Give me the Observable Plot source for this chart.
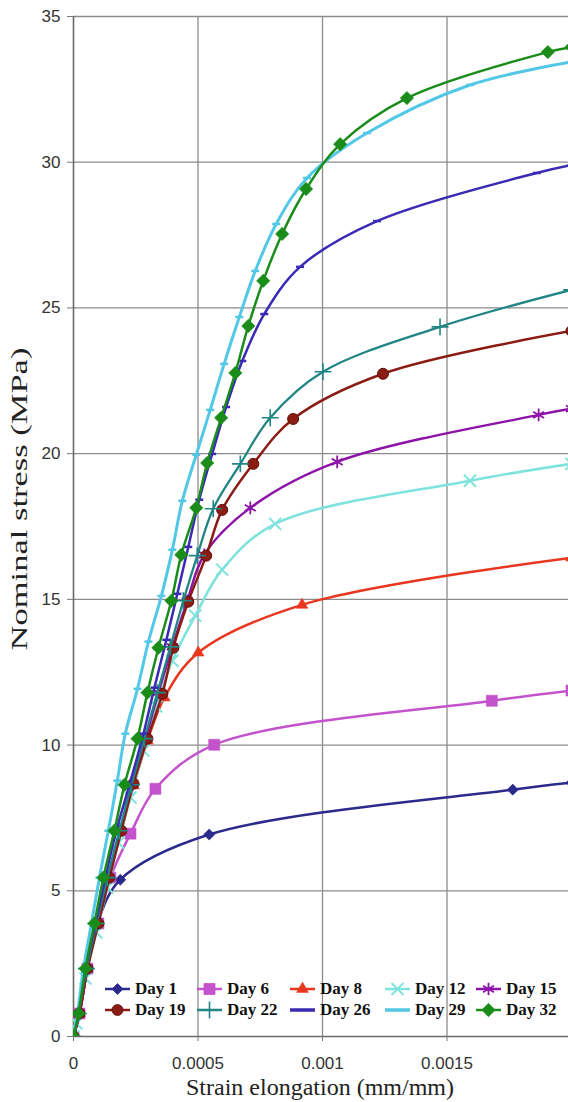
<!DOCTYPE html>
<html><head><meta charset="utf-8">
<script src="https://cdn.jsdelivr.net/npm/d3@7"></script>
<script src="https://cdn.jsdelivr.net/npm/@observablehq/plot@0.6"></script>
<style>
body{margin:0;background:#fff;}
#wrap{position:relative;width:568px;height:1102px;overflow:hidden;background:#fff;}
.xtitle{position:absolute;left:0;width:640px;top:1075px;line-height:24px;text-align:center;font-family:"Liberation Serif",serif;font-size:24px;color:#222;white-space:nowrap;}
.ytitle{position:absolute;left:20px;top:499px;line-height:24px;transform:translate(-50%,-50%) rotate(-90deg) scaleX(1.5);font-family:"Liberation Serif",serif;font-size:23px;color:#222;white-space:nowrap;}
.leg{position:absolute;height:20px;display:flex;align-items:center;font-family:"Liberation Serif",serif;font-weight:bold;font-size:17px;color:#111;white-space:nowrap;}
.leg svg{margin-right:5px;overflow:visible}
</style></head>
<body><div id="wrap"></div>
<script>
// ---- data (strain mm/mm, nominal stress MPa) ----
const seriesNames = ["Day 1","Day 6","Day 8","Day 12","Day 15","Day 19","Day 22","Day 26","Day 29","Day 32"];
const seriesColors = ["#2b2a8c","#c452cc","#e8361f","#7fe3dd","#8c12a8","#8b1c14","#218585","#3a2ab4","#52c8e6","#1a8c1a"];

const day1 = [[0,0],[0.000024,0.79],[0.000056,2.33],[0.000096,3.88],[0.000188,5.38],[0.000545,6.93],[0.001764,8.47],[0.002,8.71]];
const day6 = [[0,0],[0.000024,0.79],[0.000056,2.33],[0.0001,3.88],[0.000148,5.45],[0.000229,6.96],[0.000329,8.5],[0.000565,10.01],[0.00168,11.52],[0.002,11.87]];
const day8 = [[0,0],[0.000024,0.79],[0.000056,2.33],[0.000096,3.88],[0.00014,5.45],[0.000188,7.06],[0.000241,8.61],[0.000297,10.15],[0.000365,11.63],[0.000501,13.17],[0.000918,14.81],[0.002,16.43]];
const day12 = [[0,0],[0.000012,0.45],[0.000048,1.99],[0.000092,3.57],[0.000136,5.11],[0.00018,6.65],[0.000229,8.2],[0.000281,9.81],[0.000333,11.32],[0.000397,12.89],[0.000489,14.44],[0.000597,16.02],[0.00081,17.59],[0.001592,19.07],[0.002,19.65]];
const day15 = [[0,0],[0.000024,0.79],[0.000056,2.33],[0.000096,3.88],[0.00014,5.45],[0.000188,7.06],[0.000237,8.64],[0.000289,10.22],[0.000341,11.8],[0.000397,13.37],[0.000457,14.95],[0.000525,16.53],[0.00071,18.14],[0.001059,19.72],[0.001868,21.33],[0.002,21.54]];
const day19 = [[0,0],[0.000024,0.79],[0.000056,2.33],[0.0001,3.88],[0.000144,5.45],[0.000192,7.06],[0.000241,8.68],[0.000297,10.22],[0.000357,11.76],[0.000401,13.34],[0.000461,14.92],[0.000533,16.5],[0.000597,18.07],[0.000722,19.65],[0.000882,21.19],[0.001243,22.74],[0.002,24.21]];
const day22 = [[0,0],[0.00002,0.79],[0.000052,2.33],[0.000092,3.88],[0.000136,5.45],[0.000184,7.06],[0.000233,8.64],[0.000285,10.22],[0.000337,11.8],[0.000389,13.37],[0.000441,14.95],[0.000497,16.5],[0.000561,18.11],[0.00067,19.65],[0.00079,21.23],[0.001002,22.81],[0.001472,24.35],[0.002,25.62]];
const day26 = [[0,0],[0.00002,0.79],[0.000048,2.33],[0.000088,3.88],[0.000128,5.45],[0.000172,7.06],[0.000225,8.64],[0.000281,10.39],[0.000325,11.97],[0.000373,13.61],[0.000417,15.19],[0.000461,16.8],[0.000505,18.42],[0.000557,19.99],[0.000613,21.6],[0.000678,23.18],[0.000766,24.79],[0.00091,26.41],[0.001219,27.98],[0.00186,29.63],[0.002,29.9]];
const day29 = [[0,0],[0.000016,0.79],[0.00004,2.33],[0.000072,3.88],[0.000104,5.45],[0.00014,7.06],[0.000176,8.78],[0.000208,10.39],[0.000257,11.93],[0.000301,13.55],[0.000353,15.12],[0.000397,16.7],[0.000437,18.38],[0.000493,19.96],[0.000549,21.5],[0.000605,23.08],[0.000666,24.69],[0.00073,26.27],[0.000814,27.88],[0.000938,29.46],[0.001179,31.0],[0.001592,32.65],[0.002,33.44]];
const day32 = [[0,0],[0.00002,0.79],[0.000048,2.33],[0.000084,3.88],[0.00012,5.45],[0.000164,7.06],[0.000205,8.64],[0.000257,10.22],[0.000297,11.8],[0.000341,13.34],[0.000393,14.95],[0.000433,16.53],[0.000493,18.14],[0.000537,19.68],[0.000593,21.23],[0.00065,22.77],[0.000702,24.38],[0.000762,25.93],[0.000838,27.54],[0.000934,29.08],[0.001071,30.62],[0.001339,32.2],[0.001905,33.78],[0.002,33.95]];

const xTicks = [0, 0.0005, 0.001, 0.0015];
const xTickLabels = ["0", "0.0005", "0.001", "0.0015"];
const yTicks = [0, 5, 10, 15, 20, 25, 30, 35];

const allSeries = [day1, day6, day8, day12, day15, day19, day22, day26, day29, day32];

// ---- marker styles ----
const dashSym = {draw(ctx, size){ const w = Math.sqrt(size) / 2; ctx.moveTo(-w, 0); ctx.lineTo(w, 0); }};
const markerStyle = [
  {symbol: "diamond2", r: 5, fill: true},
  {symbol: "square2", r: 7, fill: true},
  {symbol: "triangle2", r: 5.5, fill: true},
  {symbol: "times", r: 5.5, fill: false, sw: 2},
  {symbol: "asterisk", r: 6, fill: false, sw: 1.8},
  {symbol: "circle", r: 5.5, fill: true, stroke: "#5e0f08"},
  {symbol: "plus", r: 5.5, fill: false, sw: 1.6},
  {symbol: dashSym, r: 4.5, fill: false, sw: 2.5},
  {symbol: dashSym, r: 4.5, fill: false, sw: 2.5},
  {symbol: "diamond2", r: 6, fill: true}
];
const lineWidths = [2.5, 2.5, 2.5, 2.6, 2.5, 2.5, 2.3, 2.5, 3, 2.5];

const rows = allSeries.map((pts, i) => pts.map(([x, y]) => ({series: seriesNames[i], x, y})));

const marks = [
  Plot.gridX(xTicks.slice(1), {stroke: "#8c8c8c", strokeOpacity: 1, strokeWidth: 1.3}),
  Plot.gridY(yTicks.slice(1), {stroke: "#8c8c8c", strokeOpacity: 1, strokeWidth: 1.3}),
  Plot.ruleX([0], {stroke: "#6a6a6a", strokeWidth: 1.6}),
  Plot.ruleY([0], {stroke: "#6a6a6a", strokeWidth: 1.6}),
  Plot.axisY(yTicks, {tickSize: 6, tickPadding: 7, fontSize: 17, fontFamily: "Liberation Sans", fill: "#333", stroke: "#777", label: null, tickFormat: d => String(d)}),
  Plot.axisX(xTicks, {tickSize: 5, tickPadding: 15, fontSize: 17, fontFamily: "Liberation Sans", fill: "#333", stroke: "#777", label: null, tickFormat: (d, i) => xTickLabels[i]})
];

rows.forEach((data, i) => {
  const c = seriesColors[i];
  const m = markerStyle[i];
  marks.push(Plot.line(data, {x: "x", y: "y", stroke: c, strokeWidth: lineWidths[i], curve: "catmull-rom", clip: true}));
  marks.push(Plot.dot(data, {x: "x", y: "y", symbol: () => m.symbol, r: m.r,
    fill: m.fill ? c : "none", stroke: m.fill ? (m.stroke || c) : c,
    strokeWidth: m.fill ? (m.stroke ? 1 : 0.6) : m.sw, clip: true}));
});

const chart = Plot.plot({
  width: 568, height: 1102,
  marginLeft: 73, marginTop: 16, marginBottom: 66, marginRight: 0,
  x: {domain: [0, 0.002], range: [73, 571]},
  y: {domain: [0, 35]},
  style: {background: "#fff", overflow: "hidden"},
  marks
});

const wrap = document.getElementById("wrap");
wrap.appendChild(chart);

const xt = document.createElement("div");
xt.className = "xtitle"; xt.textContent = "Strain elongation (mm/mm)";
wrap.appendChild(xt);
const yt = document.createElement("div");
yt.className = "ytitle"; yt.textContent = "Nominal stress (MPa)";
wrap.appendChild(yt);

// ---- legend ----
const legCols = [105, 197, 290, 385, 476];
const legRows = [989, 1010];
const symTypes = {diamond2: d3.symbolDiamond2, square2: d3.symbolSquare2, triangle2: d3.symbolTriangle2, times: d3.symbolTimes, asterisk: d3.symbolAsterisk, circle: d3.symbolCircle, plus: d3.symbolPlus};
seriesNames.forEach((name, i) => {
  const c = seriesColors[i];
  const m = markerStyle[i];
  const item = document.createElement("div");
  item.className = "leg";
  item.style.left = legCols[i % 5] + "px";
  item.style.top = (legRows[Math.floor(i / 5)] - 10) + "px";
  const ns = "http://www.w3.org/2000/svg";
  const s = document.createElementNS(ns, "svg");
  s.setAttribute("width", 25); s.setAttribute("height", 20);
  const ln = document.createElementNS(ns, "line");
  ln.setAttribute("x1", 0); ln.setAttribute("x2", 25); ln.setAttribute("y1", 10); ln.setAttribute("y2", 10);
  ln.setAttribute("stroke", c); ln.setAttribute("stroke-width", (i === 7 || i === 8) ? 3.5 : 2.5);
  s.appendChild(ln);
  if (typeof m.symbol === "string") {
    const p = document.createElementNS(ns, "path");
    p.setAttribute("d", d3.symbol(symTypes[m.symbol], Math.PI * m.r * m.r)());
    p.setAttribute("transform", "translate(12.5,10)");
    p.setAttribute("fill", m.fill ? c : "none");
    p.setAttribute("stroke", m.fill ? (m.stroke || c) : c);
    p.setAttribute("stroke-width", m.fill ? 0.8 : m.sw);
    s.appendChild(p);
  }
  item.appendChild(s);
  const t = document.createElement("span");
  t.textContent = name;
  item.appendChild(t);
  wrap.appendChild(item);
});
</script>
</body></html>
